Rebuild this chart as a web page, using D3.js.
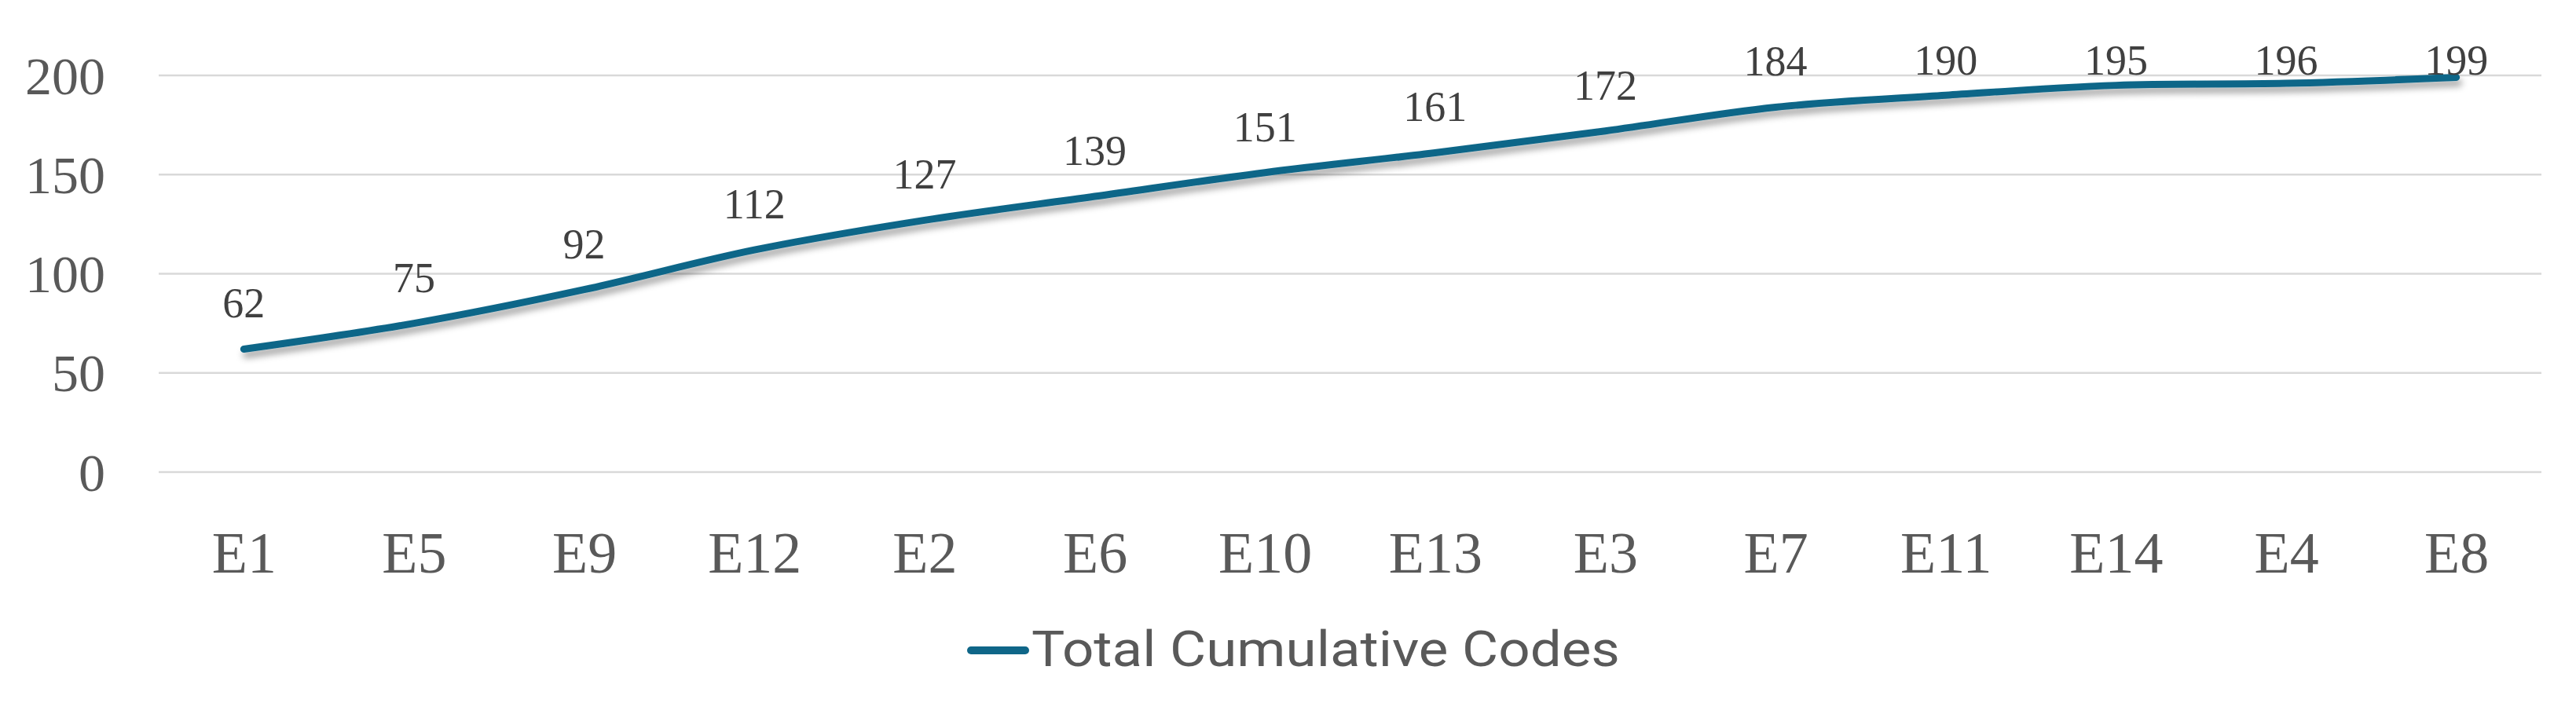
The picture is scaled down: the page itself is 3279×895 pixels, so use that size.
<!DOCTYPE html>
<html>
<head>
<meta charset="utf-8">
<script src="https://cdn.jsdelivr.net/npm/d3@7"></script>
<style>
  html, body { margin: 0; padding: 0; background: #fff; }
  svg { display: block; }
</style>
</head>
<body>
<svg id="chart" width="3279" height="895"></svg>
<script>
const categories = ["E1","E5","E9","E12","E2","E6","E10","E13","E3","E7","E11","E14","E4","E8"];
const values = [62,75,92,112,127,139,151,161,172,184,190,195,196,199];
const yTicks = [0,50,100,150,200];
const seriesName = "Total Cumulative Codes";

const W = 3279, H = 895;
const plot = {left: 202, right: 3235, top: 96, bottom: 601};
const lineColor = "#0f6688";
const serif = "'Liberation Serif', 'Times New Roman', serif";
const sans = "Roboto, 'Liberation Sans', Arial, sans-serif";

const svg = d3.select("#chart");

const defs = svg.append("defs");
const f = defs.append("filter").attr("id","shadow")
  .attr("x","-5%").attr("y","-50%").attr("width","110%").attr("height","200%");
f.append("feDropShadow").attr("dx",3).attr("dy",7).attr("stdDeviation",4)
  .attr("flood-color","#000").attr("flood-opacity",0.35);

const x = d3.scalePoint().domain(categories).range([plot.left, plot.right]).padding(0.5);
const y = d3.scaleLinear().domain([0,200]).range([plot.bottom, plot.top]);

// gridlines
svg.append("g").selectAll("line").data(yTicks).join("line")
  .attr("x1", plot.left).attr("x2", plot.right)
  .attr("y1", d => y(d)).attr("y2", d => y(d))
  .attr("stroke", "#d9d9d9").attr("stroke-width", 2.5);

// y axis labels
const yAxis = svg.append("g").attr("transform", `translate(${plot.left},0)`)
  .call(d3.axisLeft(y).tickValues(yTicks).tickSize(0).tickPadding(68));
yAxis.select(".domain").remove();
yAxis.selectAll("text").attr("font-family", serif).attr("font-size", 68)
  .attr("fill", "#595959").attr("dy", "0.34em");

// x axis labels
const xAxis = svg.append("g").attr("transform", `translate(0,${plot.bottom})`)
  .call(d3.axisBottom(x).tickSize(0).tickPadding(0));
xAxis.select(".domain").remove();
xAxis.selectAll("text").attr("font-family", serif).attr("font-size", 74)
  .attr("fill", "#595959").attr("dy", null).attr("y", 128);

// line
const lineGen = d3.line()
  .x((d,i) => x(categories[i]))
  .y(d => y(d))
  .curve(d3.curveCatmullRom.alpha(0.5));
svg.append("path").datum(values)
  .attr("d", lineGen)
  .attr("fill", "none")
  .attr("stroke", lineColor)
  .attr("stroke-width", 9)
  .attr("stroke-linecap", "round")
  .attr("stroke-linejoin", "round")
  .attr("filter", "url(#shadow)");

// data labels (kept inside the plot area, as the original does)
svg.append("g").selectAll("text").data(values).join("text")
  .attr("x", (d,i) => x(categories[i]))
  .attr("y", d => Math.max(y(d) - 40, plot.top - 1))
  .attr("text-anchor", "middle")
  .attr("font-family", serif).attr("font-size", 54)
  .attr("fill", "#404040")
  .text(d => d);

// legend
const lg = svg.append("g");
lg.append("line").attr("x1", 1236).attr("x2", 1305).attr("y1", 828).attr("y2", 828)
  .attr("stroke", lineColor).attr("stroke-width", 10).attr("stroke-linecap", "round");
lg.append("text").attr("x", 1313).attr("y", 848)
  .attr("font-family", sans).attr("font-size", 63)
  .attr("fill", "#595959")
  .attr("textLength", 749).attr("lengthAdjust", "spacingAndGlyphs")
  .text(seriesName);
</script>
</body>
</html>
